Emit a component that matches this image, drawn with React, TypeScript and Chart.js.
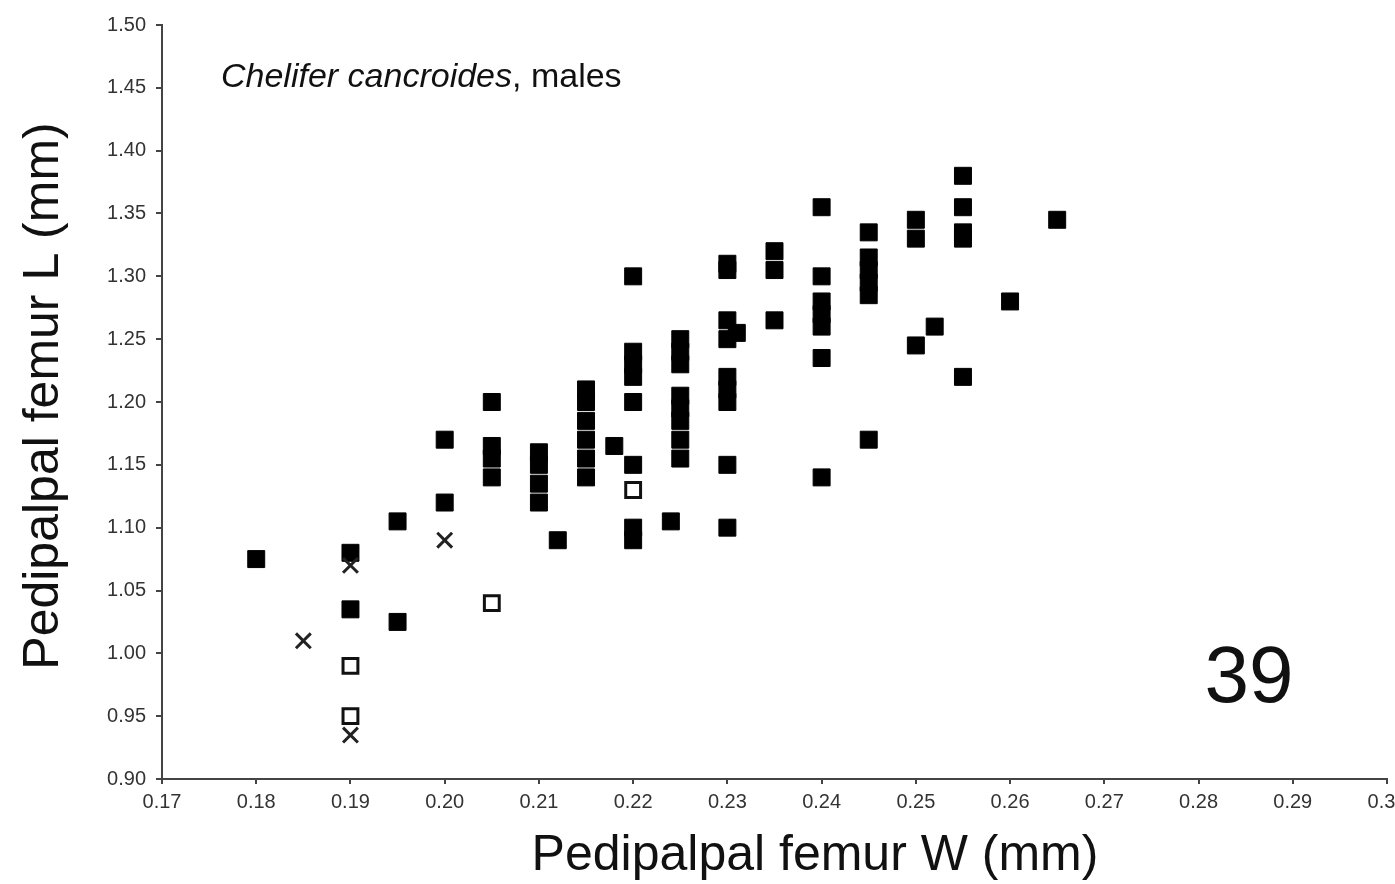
import React, { useEffect, useRef } from "react";
import { Chart, registerables } from "chart.js";

Chart.register(...registerables);

// Filled squares: x columns and the y values in each column
const filledColumns = [0.18, 0.19, 0.195, 0.2, 0.205, 0.21, 0.212, 0.215, 0.218, 0.22, 0.224, 0.225, 0.23, 0.231, 0.235, 0.24, 0.245, 0.25, 0.252, 0.255, 0.26, 0.265];
const filledValues = [
  [1.075],
  [1.08, 1.035],
  [1.105, 1.025],
  [1.17, 1.12],
  [1.2, 1.165, 1.155, 1.14],
  [1.16, 1.15, 1.135, 1.12],
  [1.09],
  [1.21, 1.2, 1.185, 1.17, 1.155, 1.14],
  [1.165],
  [1.3, 1.24, 1.23, 1.22, 1.2, 1.15, 1.1, 1.09],
  [1.105],
  [1.25, 1.24, 1.23, 1.205, 1.195, 1.185, 1.17, 1.155],
  [1.31, 1.305, 1.265, 1.25, 1.22, 1.21, 1.2, 1.15, 1.1],
  [1.255],
  [1.32, 1.305, 1.265],
  [1.355, 1.3, 1.28, 1.27, 1.26, 1.235, 1.14],
  [1.335, 1.315, 1.305, 1.295, 1.285, 1.17],
  [1.345, 1.33, 1.245],
  [1.26],
  [1.38, 1.355, 1.335, 1.33, 1.22],
  [1.28],
  [1.345],
];

// Open squares
const openX = [0.19, 0.19, 0.205, 0.22];
const openY = [0.99, 0.95, 1.04, 1.13];

// Crosses
const crossX = [0.185, 0.19, 0.19, 0.2];
const crossY = [1.01, 1.07, 0.935, 1.09];

// Axes
const xMin = 0.17;
const xMax = 0.3;
const xStep = 0.01;
const yMin = 0.9;
const yMax = 1.5;
const yStep = 0.05;

const xTitle = "Pedipalpal femur W (mm)";
const yTitle = "Pedipalpal femur L (mm)";
const speciesText = "Chelifer cancroides";
const groupText = ", males";
const figureNumber = "39";

const FONT = '"Liberation Sans", Arial, Helvetica, sans-serif';

export default function App() {
  const ref = useRef<HTMLCanvasElement | null>(null);

  useEffect(() => {
    const canvas = ref.current;
    if (!canvas) return;

    const filledPoints: { x: number; y: number }[] = [];
    filledColumns.forEach((x, i) => {
      filledValues[i].forEach((y) => filledPoints.push({ x, y }));
    });
    const openPoints = openX.map((x, i) => ({ x, y: openY[i] }));
    const crossPoints = crossX.map((x, i) => ({ x, y: crossY[i] }));

    const textPlugin = {
      id: "texts",
      afterDraw(chart: any) {
        const ctx = chart.ctx as CanvasRenderingContext2D;
        ctx.save();
        ctx.fillStyle = "#111";
        ctx.textBaseline = "alphabetic";
        // annotation
        ctx.textAlign = "left";
        ctx.font = `italic 34px ${FONT}`;
        ctx.fillText(speciesText, 221, 87);
        const w = ctx.measureText(speciesText).width;
        ctx.font = `34px ${FONT}`;
        ctx.fillText(groupText, 221 + w, 87);
        // figure number
        ctx.textAlign = "center";
        ctx.font = `80px ${FONT}`;
        ctx.fillText(figureNumber, 1249, 702);
        // x title
        ctx.font = `50px ${FONT}`;
        ctx.fillText(xTitle, 815, 870);
        // y title
        ctx.translate(58, 396);
        ctx.rotate(-Math.PI / 2);
        ctx.fillText(yTitle, 0, 0);
        ctx.restore();
      },
    };

    const chart = new Chart(canvas, {
      type: "scatter",
      data: {
        datasets: [
          {
            label: "filled",
            data: filledPoints,
            pointStyle: "rect",
            pointRadius: 12,
            pointBackgroundColor: "#000",
            pointBorderColor: "#000",
            pointBorderWidth: 1,
            order: 3,
          },
          {
            label: "open",
            data: openPoints,
            pointStyle: "rect",
            pointRadius: 10.5,
            pointBackgroundColor: "#fff",
            pointBorderColor: "#111",
            pointBorderWidth: 3,
            order: 2,
          },
          {
            label: "cross",
            data: crossPoints,
            pointStyle: "crossRot",
            pointRadius: 10.5,
            pointBorderColor: "#222",
            pointBorderWidth: 3,
            order: 1,
          },
        ],
      },
      options: {
        animation: false,
        responsive: false,
        devicePixelRatio: 1,
        events: [],
        layout: { padding: { top: 25, right: 33, bottom: 0, left: 0 } },
        plugins: {
          legend: { display: false },
          tooltip: { enabled: false },
        },
        scales: {
          x: {
            type: "linear",
            min: xMin,
            max: xMax,
            grid: { display: true, drawOnChartArea: false, drawTicks: true, tickLength: 5, tickColor: "#444", lineWidth: 2 },
            border: { display: true, color: "#444", width: 2 },
            ticks: {
              stepSize: xStep,
              autoSkip: false,
              maxRotation: 0,
              color: "#333",
              padding: 6,
              font: { family: FONT, size: 20 },
              callback: (v: any) => Number(v).toFixed(2),
            },
            afterFit: (scale: any) => {
              scale.height = 105;
            },
          },
          y: {
            type: "linear",
            min: yMin,
            max: yMax,
            grid: { display: true, drawOnChartArea: false, drawTicks: true, tickLength: 6, tickColor: "#444", lineWidth: 2 },
            border: { display: true, color: "#444", width: 2 },
            ticks: {
              stepSize: yStep,
              autoSkip: false,
              color: "#333",
              padding: 10,
              font: { family: FONT, size: 20 },
              callback: (v: any) => Number(v).toFixed(2),
            },
            afterFit: (scale: any) => {
              scale.width = 162;
            },
          },
        },
      },
      plugins: [textPlugin],
    });

    return () => chart.destroy();
  }, []);

  return (
    <div
      style={{
        position: "fixed",
        left: 0,
        top: 0,
        width: 1395,
        height: 884,
        overflow: "hidden",
        background: "#fff",
      }}
    >
      <canvas ref={ref} width={1420} height={884} style={{ display: "block", width: 1420, height: 884 }} />
    </div>
  );
}
